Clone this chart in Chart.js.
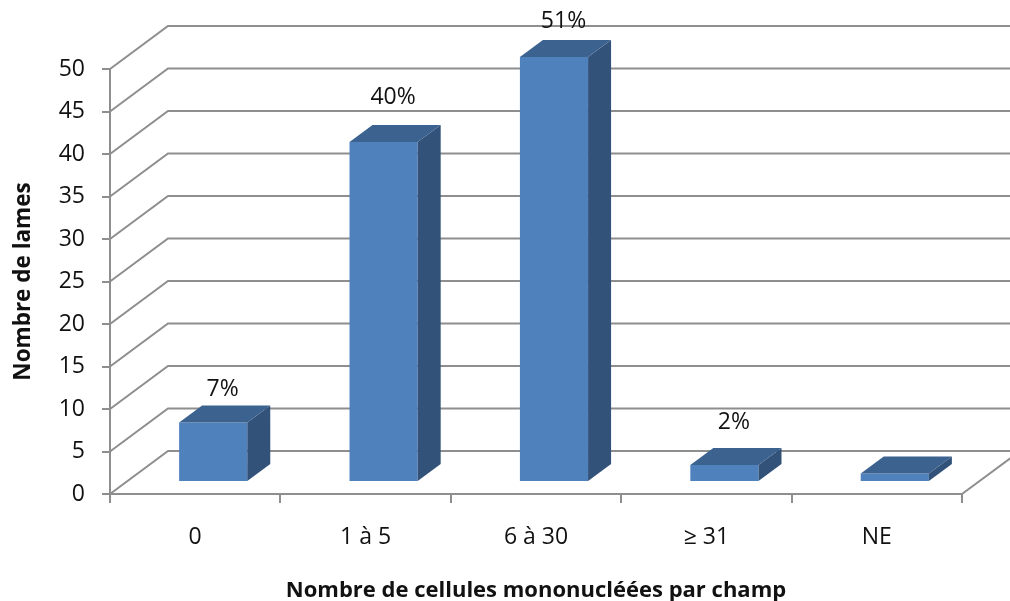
<!DOCTYPE html>
<html>
<head>
<meta charset="utf-8">
<style>
  html, body { margin: 0; padding: 0; background: #fff; }
</style>
<script src="https://cdn.jsdelivr.net/npm/chart.js@4"></script>
</head>
<body>
<canvas id="lames" width="1010" height="601"></canvas>
<script>
var categories = ["0", "1 à 5", "6 à 30", "≥ 31", "NE"];
var lames = [7, 40, 50, 2, 1];
var percentLabels = ["7%", "40%", "51%", "2%", ""];
var yTicks = [0, 5, 10, 15, 20, 25, 30, 35, 40, 45, 50];

var gridColor = "#8e8e8e";
var fontName = "'Open Sans', sans-serif";

// fake 3D, everything hangs off the real scales
var box3d = {
  id: 'box3d',
  beforeDatasetsDraw: function(chart, args, opts) {
    var ctx = chart.ctx, area = chart.chartArea, y = chart.scales.y;
    ctx.save();
    ctx.strokeStyle = gridColor;
    ctx.lineWidth = 2;
    yTicks.forEach(function(t) {
      var py = y.getPixelForValue(t);
      ctx.beginPath();
      ctx.moveTo(area.left, py);
      ctx.lineTo(area.left + opts.wallX, py + opts.wallY);
      ctx.lineTo(area.right + opts.wallX, py + opts.wallY);
      ctx.stroke();
    });
    ctx.beginPath();
    ctx.moveTo(area.right, area.bottom);
    ctx.lineTo(area.right + opts.wallX, area.bottom + opts.wallY);
    ctx.stroke();
    ctx.restore();
    // bars stand in the middle of the floor
    ctx.save();
    ctx.translate(opts.barX, opts.barY);
  },
  afterDatasetsDraw: function(chart, args, opts) {
    var ctx = chart.ctx;
    chart.getDatasetMeta(0).data.forEach(function(bar) {
      var r = bar.x + bar.width / 2, l = bar.x - bar.width / 2;
      ctx.fillStyle = opts.sideColor;
      ctx.beginPath();
      ctx.moveTo(r, bar.y);
      ctx.lineTo(r + opts.depthX, bar.y + opts.depthY);
      ctx.lineTo(r + opts.depthX, bar.base + opts.depthY);
      ctx.lineTo(r, bar.base);
      ctx.closePath();
      ctx.fill();
      ctx.fillStyle = opts.topColor;
      ctx.beginPath();
      ctx.moveTo(l, bar.y);
      ctx.lineTo(l + opts.depthX, bar.y + opts.depthY);
      ctx.lineTo(r + opts.depthX, bar.y + opts.depthY);
      ctx.lineTo(r, bar.y);
      ctx.closePath();
      ctx.fill();
    });
    ctx.fillStyle = "#111";
    ctx.font = "23px " + fontName;
    ctx.textAlign = "center";
    ctx.textBaseline = "middle";
    chart.getDatasetMeta(0).data.forEach(function(bar, i) {
      ctx.fillText(percentLabels[i], bar.x + opts.depthX / 2 - 2, bar.y - opts.labelLift[i]);
    });
    ctx.restore();
  }
};

new Chart(document.getElementById("lames"), {
  type: 'bar',
  plugins: [box3d],
  data: {
    labels: categories,
    datasets: [{
      data: lames,
      backgroundColor: "#4f81bd",
      borderWidth: 0,
      clip: false,
      categoryPercentage: 1,
      barPercentage: 0.4
    }]
  },
  options: {
    responsive: false,
    animation: false,
    layout: { padding: { top: 69, right: 48, left: 0, bottom: 0 } },
    plugins: {
      legend: { display: false },
      tooltip: { enabled: false },
      box3d: {
        wallX: 58, wallY: -43,
        barX: 18, barY: -12,
        depthX: 23, depthY: -17,
        sideColor: "#33527a",
        topColor: "#3c6290",
        labelLift: [33, 45, 36, 43, 0]
      }
    },
    scales: {
      x: {
        afterFit: function(scale) { scale.height = 107; },
        border: { color: gridColor, width: 2 },
        grid: { drawOnChartArea: false, color: gridColor, lineWidth: 2, tickLength: 9 },
        ticks: { color: "#111", font: { family: fontName, size: 23 }, padding: 21, maxRotation: 0 },
        title: {
          display: true,
          text: "Nombre de cellules mononucléées par champ",
          color: "#111",
          font: { family: fontName, size: 22, weight: 'bold' },
          padding: { top: 6, bottom: -3 }
        }
      },
      y: {
        min: 0,
        max: 50,
        afterFit: function(scale) { scale.width = 110; },
        border: { color: gridColor, width: 2 },
        grid: { drawOnChartArea: false, color: gridColor, lineWidth: 2, tickLength: 8 },
        ticks: { stepSize: 5, color: "#111", font: { family: fontName, size: 23 }, padding: 17 },
        title: {
          display: true,
          text: "Nombre de lames",
          color: "#111",
          font: { family: fontName, size: 22.5, weight: 'bold' },
          padding: { top: 10, bottom: 0 }
        }
      }
    }
  }
});
</script>
</body>
</html>
